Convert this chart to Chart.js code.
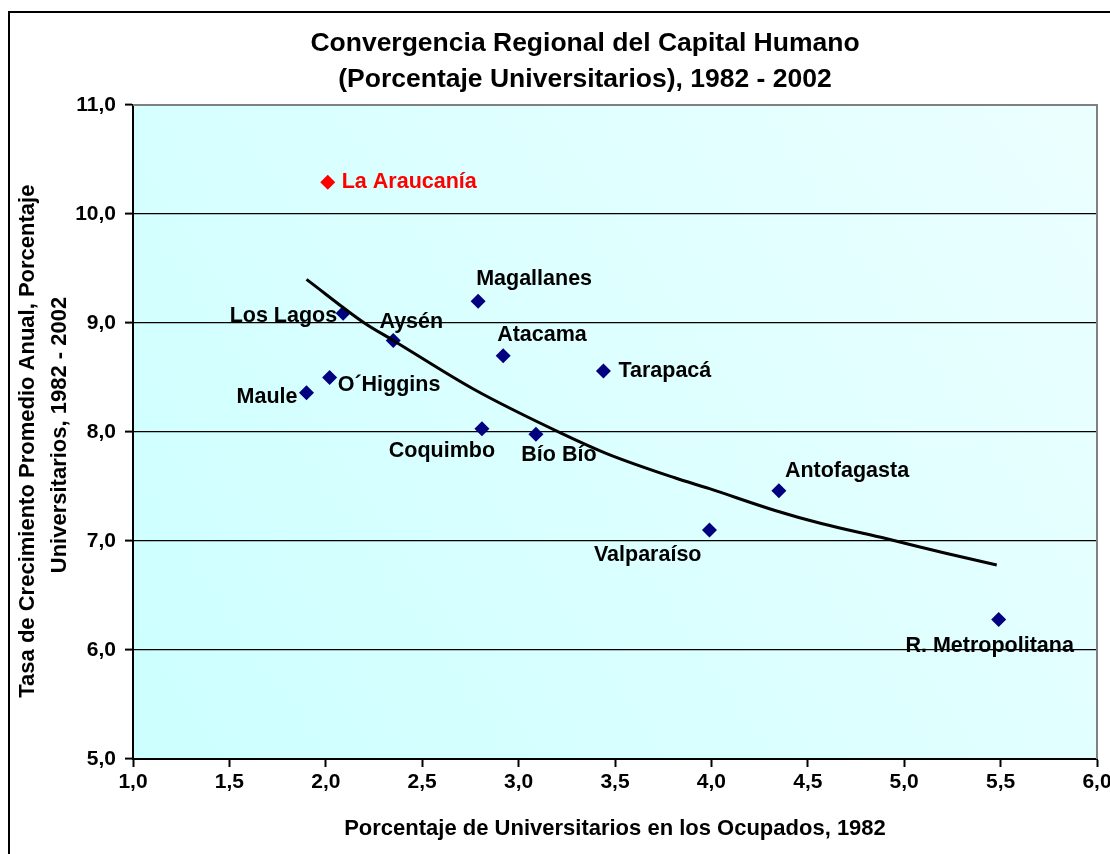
<!DOCTYPE html>
<html>
<head>
<meta charset="utf-8">
<script src="https://cdn.jsdelivr.net/npm/chart.js@4/dist/chart.umd.min.js"></script>
<style>
  html, body { margin: 0; padding: 0; background: #fff; overflow: hidden; }
  #frame {
    position: absolute; left: 8px; top: 11px;
    width: 1150px; height: 900px;
    border: 2px solid #000;
  }
</style>
</head>
<body>
<div id="frame"><canvas id="chart" width="1150" height="900"></canvas></div>
<script>
// Regiones: % universitarios en ocupados 1982 (x) y tasa de crecimiento anual (y)
const regions = ['Los Lagos', 'Aysén', 'Magallanes', 'Atacama', 'Tarapacá', 'O´Higgins', 'Maule',
  'Coquimbo', 'Bío Bío', 'Antofagasta', 'Valparaíso', 'R. Metropolitana'];
const pctUniv1982 = [2.09, 2.35, 2.79, 2.92, 3.44, 2.02, 1.90, 2.81, 3.09, 4.35, 3.99, 5.49];
const growthRate = [9.09, 8.84, 9.20, 8.70, 8.56, 8.50, 8.36, 8.03, 7.98, 7.46, 7.10, 6.28];

const highlightName = 'La Araucanía';
const highlightX = [2.01];
const highlightY = [10.29];

// linea de tendencia
const trendX = [1.90, 2.20, 2.35, 2.77, 3.22, 3.46, 3.81, 3.99, 4.33, 4.57, 4.91, 5.21, 5.48];
const trendY = [9.40, 9.00, 8.84, 8.39, 7.99, 7.80, 7.58, 7.48, 7.28, 7.16, 7.02, 6.89, 6.78];

const xTicks = [1.0, 1.5, 2.0, 2.5, 3.0, 3.5, 4.0, 4.5, 5.0, 5.5, 6.0];
const yTicks = [5.0, 6.0, 7.0, 8.0, 9.0, 10.0, 11.0];

// where each label sits relative to its marker: [dx, dy, align]
const labelPlacement = {
  'La Araucanía': [14, 0, 'left'],
  'Los Lagos': [-6, 3, 'right'],
  'Aysén': [18, -18, 'center'],
  'Magallanes': [56, -22, 'center'],
  'Atacama': [-6, -21, 'left'],
  'Tarapacá': [15, 0, 'left'],
  'O´Higgins': [8, 8, 'left'],
  'Maule': [-9, 4, 'right'],
  'Coquimbo': [-40, 22, 'center'],
  'Bío Bío': [23, 21, 'center'],
  'Antofagasta': [6, -20, 'left'],
  'Valparaíso': [-8, 25, 'right'],
  'R. Metropolitana': [-9, 27, 'center']
};

const FONT = "'Liberation Sans', Arial, sans-serif";
const fmt = v => v.toFixed(1).replace('.', ',');

const plotBackground = {
  id: 'plotBackground',
  beforeDraw(chart) {
    const { ctx, chartArea: a } = chart;
    const g = ctx.createLinearGradient(a.left, a.bottom, a.right, a.top);
    g.addColorStop(0, '#CCFFFF');
    g.addColorStop(1, '#ECFFFF');
    ctx.save();
    ctx.fillStyle = g;
    ctx.fillRect(a.left, a.top, a.right - a.left, a.bottom - a.top);
    ctx.restore();
  },
  beforeDatasetsDraw(chart) {
    const { ctx, chartArea: a } = chart;
    ctx.save();
    ctx.strokeStyle = '#808080';
    ctx.lineWidth = 2;
    ctx.beginPath();
    ctx.moveTo(a.left, a.top);
    ctx.lineTo(a.right, a.top);
    ctx.lineTo(a.right, a.bottom);
    ctx.stroke();
    ctx.restore();
  }
};

const pointLabels = {
  id: 'pointLabels',
  afterDatasetsDraw(chart) {
    const { ctx } = chart;
    ctx.save();
    ctx.font = 'bold 21.5px ' + FONT;
    ctx.textBaseline = 'middle';
    chart.data.datasets.forEach((ds, i) => {
      if (!ds.names) return;
      const meta = chart.getDatasetMeta(i);
      meta.data.forEach((pt, j) => {
        const name = ds.names[j];
        const [dx, dy, align] = labelPlacement[name];
        ctx.fillStyle = ds.labelColor;
        ctx.textAlign = align;
        ctx.fillText(name, pt.x + dx, pt.y + dy);
      });
    });
    ctx.restore();
  }
};

new Chart(document.getElementById('chart'), {
  type: 'scatter',
  data: {
    datasets: [
      {
        label: 'Tendencia',
        data: trendX.map((x, i) => ({ x: x, y: trendY[i] })),
        showLine: true,
        borderColor: '#000',
        borderWidth: 3,
        pointRadius: 0,
        cubicInterpolationMode: 'monotone',
        order: 0
      },
      {
        label: 'Regiones',
        names: regions,
        labelColor: '#000',
        data: pctUniv1982.map((x, i) => ({ x: x, y: growthRate[i] })),
        pointStyle: 'rectRot',
        pointRadius: 7.5,
        backgroundColor: '#000080',
        borderColor: '#000080',
        borderWidth: 0,
        order: 1
      },
      {
        label: highlightName,
        names: [highlightName],
        labelColor: '#FF0000',
        data: highlightX.map((x, i) => ({ x: x, y: highlightY[i] })),
        pointStyle: 'rectRot',
        pointRadius: 7.5,
        backgroundColor: '#FF0000',
        borderColor: '#FF0000',
        borderWidth: 0,
        order: 1
      }
    ]
  },
  options: {
    responsive: false,
    animation: false,
    layout: { padding: { left: 0, top: 0, right: 0, bottom: 64 } },
    plugins: {
      legend: { display: false },
      tooltip: { enabled: false },
      title: {
        display: true,
        text: ['Convergencia Regional del Capital Humano', '(Porcentaje Universitarios), 1982 - 2002'],
        color: '#000',
        font: { family: FONT, size: 26.5, weight: 'bold', lineHeight: 1.358 },
        padding: { top: 13, bottom: 7 }
      }
    },
    scales: {
      x: {
        type: 'linear',
        min: xTicks[0],
        max: xTicks[xTicks.length - 1],
        afterBuildTicks: s => { s.ticks = xTicks.map(v => ({ value: v })); },
        afterFit: s => { s.height = 90; },
        border: { display: true, color: '#000', width: 2 },
        grid: { drawOnChartArea: false, drawTicks: true, tickLength: 8, tickWidth: 2, tickColor: '#000', color: '#000' },
        ticks: {
          color: '#000',
          padding: 3,
          maxRotation: 0,
          font: { family: FONT, size: 21, weight: 'bold' },
          callback: v => fmt(v)
        },
        title: {
          display: true,
          text: 'Porcentaje de Universitarios en los Ocupados, 1982',
          color: '#000',
          font: { family: FONT, size: 22, weight: 'bold', lineHeight: 1.2 },
          padding: { top: 0, bottom: 7 }
        }
      },
      y: {
        type: 'linear',
        min: yTicks[0],
        max: yTicks[yTicks.length - 1],
        afterBuildTicks: s => { s.ticks = yTicks.map(v => ({ value: v })); },
        afterFit: s => { s.width = 123; },
        border: { display: true, color: '#000', width: 2 },
        grid: {
          drawTicks: true,
          tickLength: 8,
          tickWidth: 2,
          tickColor: '#000',
          lineWidth: 1.2,
          color: c => (c.tick && c.tick.value === yTicks[yTicks.length - 1]) ? 'rgba(0,0,0,0)' : '#000'
        },
        ticks: {
          color: '#000',
          padding: 9,
          font: { family: FONT, size: 21, weight: 'bold' },
          callback: v => fmt(v)
        },
        title: {
          display: true,
          text: ['Tasa de Crecimiento Promedio Anual, Porcentaje   ', 'Universitarios, 1982 - 2002 '],
          color: '#000',
          font: { family: FONT, size: 22, weight: 'bold', lineHeight: 1.45 },
          padding: { top: 2, bottom: 0 }
        }
      },
      // empty right-hand gutter so the title stays centred on the whole frame
      gutter: {
        type: 'linear',
        position: 'right',
        display: true,
        afterFit: s => { s.width = 63; },
        border: { display: false },
        grid: { display: false },
        ticks: { display: false }
      }
    }
  },
  plugins: [plotBackground, pointLabels]
});
</script>
</body>
</html>
